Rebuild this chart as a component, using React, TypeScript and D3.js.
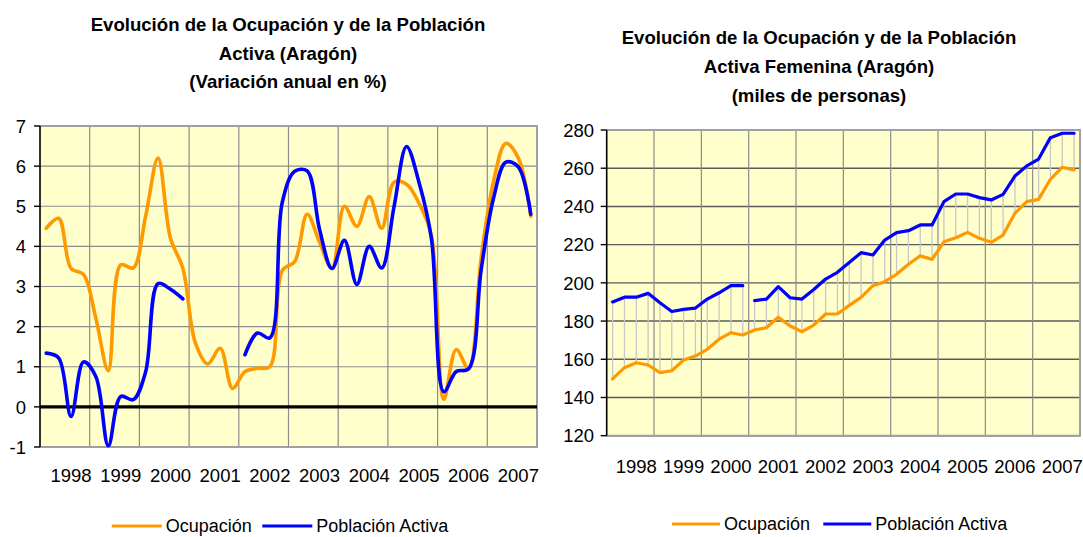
import React, { useRef, useEffect } from 'react';
import * as d3 from 'd3';

// Quarterly categories 1998-2007
const years = ['1998', '1999', '2000', '2001', '2002', '2003', '2004', '2005', '2006', '2007'];
const quarters = years.flatMap(y => ['I', 'II', 'III', 'IV'].map(q => `${q} ${y}`));

// Left chart: annual change in %
const ocupacionVar = [4.45, 4.7, 3.45, 3.3, 2.2, 0.9, 3.54, 3.46, 4.75, 6.2, 4.2, 3.45, 1.6, 1.07, 1.46, 0.46, 0.88, 0.96, 1.0, 3.4, 3.62, 4.8, 4.1, 3.45, 5.0, 4.5, 5.24, 4.45, 5.6, 5.55, 5.08, 4.27, 0.19, 1.43, 0.95, 3.7, 5.62, 6.57, 6.2, 4.75];
const activaVar = [1.34, 1.22, -0.24, 1.12, 0.75, -0.97, 0.26, 0.18, 0.87, 3.07, 2.93, 2.69, null, null, null, null, 1.3, 1.84, 1.72, 5.1, 5.87, 5.88, 4.42, 3.45, 4.15, 3.05, 4.0, 3.46, 5.0, 6.49, 5.6, 4.2, 0.38, 0.88, 0.95, 3.4, 5.2, 6.1, 5.98, 4.8];
const leftTicks = [-1, 0, 1, 2, 3, 4, 5, 6, 7];

// Right chart: thousands of women
const ocupacionFem = [149.7, 155.6, 158.2, 157.0, 153.0, 154.0, 159.6, 161.7, 165.2, 170.5, 173.9, 172.7, 175.3, 176.5, 182.0, 177.4, 174.4, 177.9, 183.7, 183.7, 188.2, 192.4, 198.5, 200.6, 204.5, 209.7, 214.1, 212.3, 221.5, 223.6, 226.4, 223.3, 221.2, 225.0, 236.4, 242.5, 243.7, 254.2, 260.5, 259.1];
const activaFem = [190.0, 192.5, 192.5, 194.5, 189.6, 185.0, 186.1, 186.8, 191.5, 194.8, 198.5, 198.5, 190.7, 191.5, 198.0, 192.2, 191.5, 196.5, 202.0, 205.5, 210.6, 215.8, 214.6, 222.4, 226.3, 227.3, 230.3, 230.3, 242.5, 246.5, 246.5, 244.6, 243.4, 246.3, 255.9, 261.2, 264.8, 276.0, 278.3, 278.3];
const activaFemBreakAfter = 11;
const rightTicks = [120, 140, 160, 180, 200, 220, 240, 260, 280];

const FONT = '"Liberation Sans", Arial, sans-serif';
const ORANGE = '#FF9900';
const BLUE = '#0000FF';

const drawPanel = (svg, cfg) => {
  const { x0, x1, y0, y1 } = cfg;
  const g = svg.append('g');

  const x = d3.scaleBand().domain(quarters).range([x0, x1]).paddingInner(0).paddingOuter(0);
  const cx = i => x(quarters[i]) + x.bandwidth() / 2;
  const y = d3.scaleLinear().domain(cfg.yDomain).range([y1, y0]);

  // Plot area
  g.append('rect')
    .attr('x', x0).attr('y', y0)
    .attr('width', x1 - x0).attr('height', y1 - y0)
    .attr('fill', '#FFFFCC');

  // Horizontal grid
  g.selectAll('.hgrid')
    .data(cfg.yTicks)
    .enter()
    .append('line')
    .attr('x1', x0).attr('x2', x1)
    .attr('y1', d => y(d)).attr('y2', d => y(d))
    .attr('stroke', cfg.hGrid)
    .attr('stroke-width', cfg.hGridWidth);

  // Vertical grid at year boundaries
  g.selectAll('.vgrid')
    .data(years.slice(1))
    .enter()
    .append('line')
    .attr('x1', (d, k) => x(quarters[(k + 1) * 4]))
    .attr('x2', (d, k) => x(quarters[(k + 1) * 4]))
    .attr('y1', y0).attr('y2', y1)
    .attr('stroke', '#8C8C8C')
    .attr('stroke-width', 1.2);

  // Border: top, right, bottom
  g.append('path')
    .attr('d', `M${x0},${y0}H${x1}V${y1}H${x0}`)
    .attr('fill', 'none')
    .attr('stroke', '#A0A0A0')
    .attr('stroke-width', 2);

  if (cfg.zeroLine) {
    g.append('line')
      .attr('x1', x0).attr('x2', x1)
      .attr('y1', y(0)).attr('y2', y(0))
      .attr('stroke', '#000')
      .attr('stroke-width', 3.2);
  }

  // High-low lines
  if (cfg.hiLo) {
    const [a, b] = cfg.hiLo;
    g.selectAll('.hilo')
      .data(a)
      .enter()
      .append('line')
      .attr('x1', (d, i) => cx(i)).attr('x2', (d, i) => cx(i))
      .attr('y1', d => y(d)).attr('y2', (d, i) => y(b[i]))
      .attr('stroke', '#C8C8C8')
      .attr('stroke-width', 1.3);
  }

  const line = d3.line()
    .defined(d => d.v != null)
    .x(d => cx(d.i))
    .y(d => y(d.v))
    .curve(cfg.curve);

  cfg.series.forEach(s => {
    const pts = s.values.map((v, i) => ({ i, v }));
    if (s.breakAfter != null) pts.splice(s.breakAfter + 1, 0, { i: 0, v: null });
    g.append('path')
      .datum(pts)
      .attr('d', line)
      .attr('fill', 'none')
      .attr('stroke', s.color)
      .attr('stroke-width', cfg.lineWidth)
      .attr('stroke-linejoin', 'round')
      .attr('stroke-linecap', 'round');
  });

  // Y axis
  g.append('line')
    .attr('x1', x0).attr('x2', x0)
    .attr('y1', y0).attr('y2', y1)
    .attr('stroke', '#000')
    .attr('stroke-width', 1.6);
  g.selectAll('.ytick')
    .data(cfg.yTicks)
    .enter()
    .append('line')
    .attr('x1', x0 - 6).attr('x2', x0)
    .attr('y1', d => y(d)).attr('y2', d => y(d))
    .attr('stroke', '#000')
    .attr('stroke-width', 1.4);
  g.selectAll('.ylabel')
    .data(cfg.yTicks)
    .enter()
    .append('text')
    .attr('x', cfg.yLabelX)
    .attr('y', d => y(d))
    .attr('dy', '0.36em')
    .attr('text-anchor', 'end')
    .style('font-family', FONT)
    .style('font-size', '18.5px')
    .attr('fill', '#000')
    .text(d => d);

  // X labels at the third quarter of each year
  g.selectAll('.xlabel')
    .data(years)
    .enter()
    .append('text')
    .attr('x', (d, k) => cx(k * 4 + 2))
    .attr('y', cfg.xLabelY)
    .attr('text-anchor', 'middle')
    .style('font-family', FONT)
    .style('font-size', '18.5px')
    .attr('fill', '#000')
    .text(d => d);

  // Title
  cfg.title.forEach((t, k) => {
    g.append('text')
      .attr('x', cfg.titleX)
      .attr('y', cfg.titleY + k * 28.6)
      .attr('text-anchor', 'middle')
      .style('font-family', FONT)
      .style('font-size', '18.6px')
      .style('font-weight', 'bold')
      .attr('fill', '#000')
      .text(t);
  });

  // Legend
  const lg = cfg.legend;
  [
    { x: lg.x[0], len: lg.len[0], color: ORANGE, label: 'Ocupación' },
    { x: lg.x[1], len: lg.len[1], color: BLUE, label: 'Población Activa' },
  ].forEach(item => {
    g.append('line')
      .attr('x1', item.x).attr('x2', item.x + item.len)
      .attr('y1', lg.y).attr('y2', lg.y)
      .attr('stroke', item.color)
      .attr('stroke-width', 3.2);
    g.append('text')
      .attr('x', item.x + item.len + 4)
      .attr('y', lg.y)
      .attr('dy', '0.36em')
      .style('font-family', FONT)
      .style('font-size', '18px')
      .attr('fill', '#000')
      .text(item.label);
  });
};

const App = () => {
  const ref = useRef(null);

  useEffect(() => {
    d3.select(ref.current).selectAll('*').remove();
    const svg = d3.select(ref.current);

    drawPanel(svg, {
      x0: 40, x1: 537, y0: 126, y1: 447,
      yDomain: [-1, 7], yTicks: leftTicks,
      hGrid: '#8C8C8C', hGridWidth: 1.2,
      zeroLine: true,
      curve: d3.curveCatmullRom.alpha(0.5),
      lineWidth: 3.6,
      series: [
        { values: ocupacionVar, color: ORANGE },
        { values: activaVar, color: BLUE },
      ],
      yLabelX: 26, xLabelY: 481.5,
      title: ['Evolución de la Ocupación y de la Población', 'Activa (Aragón)', '(Variación anual en %)'],
      titleX: 288, titleY: 31,
      legend: { x: [111.7, 262.3], len: [50, 50], y: 526 },
    });

    drawPanel(svg, {
      x0: 606.7, x1: 1080, y0: 130, y1: 435.7,
      yDomain: [120, 280], yTicks: rightTicks,
      hGrid: '#5A5A5A', hGridWidth: 1.4,
      zeroLine: false,
      hiLo: [activaFem, ocupacionFem],
      curve: d3.curveLinear,
      lineWidth: 3.2,
      series: [
        { values: ocupacionFem, color: ORANGE },
        { values: activaFem, color: BLUE, breakAfter: activaFemBreakAfter },
      ],
      yLabelX: 594, xLabelY: 473,
      title: ['Evolución de la Ocupación y de la Población', 'Activa Femenina (Aragón)', '(miles de personas)'],
      titleX: 819, titleY: 44.3,
      legend: { x: [672, 823.3], len: [48, 48], y: 524 },
    });
  }, []);

  return (
    <svg
      ref={ref}
      width={1083}
      height={537}
      style={{ position: 'absolute', left: 0, top: 0, background: '#fff' }}
    />
  );
};

export default App;
